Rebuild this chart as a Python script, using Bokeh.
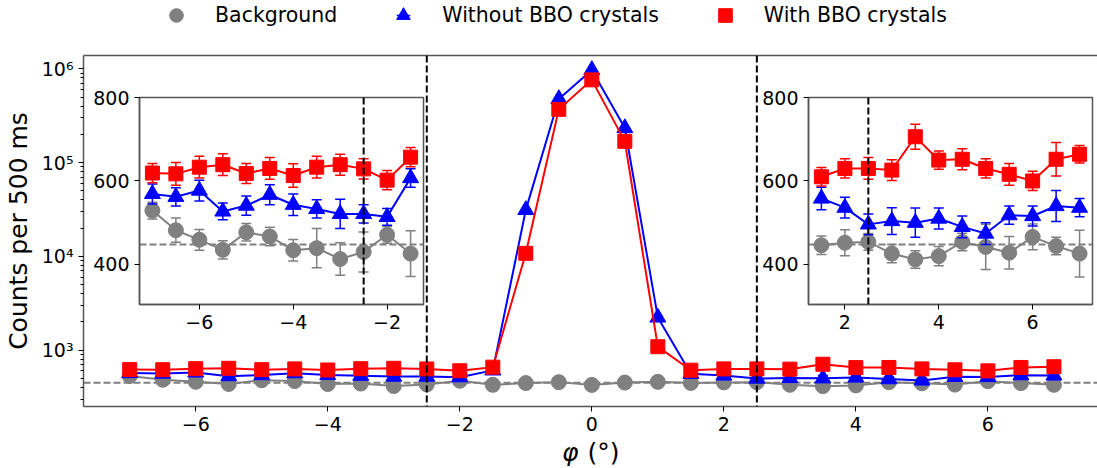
from bokeh.plotting import figure
from bokeh.models import (ColumnDataSource, Range1d, Span, Legend, LegendItem, FixedTicker,
                          CustomJSTickFormatter, LinearAxis, Label)
from bokeh.embed import file_html
from bokeh.resources import INLINE

# ---------------- data ----------------
phi = [-7.0, -6.5, -6.0, -5.5, -5.0, -4.5, -4.0, -3.5, -3.0, -2.5, -2.0, -1.5,
       -1.0, -0.5, 0.0, 0.5, 1.0,
       1.5, 2.0, 2.5, 3.0, 3.5, 4.0, 4.5, 5.0, 5.5, 6.0, 6.5, 7.0]

background = [529, 482, 459, 435, 477, 467, 434, 439, 413, 430, 471, 426,
              445, 455, 425, 450, 458,
              446, 452, 454, 426, 412, 420, 454, 442, 428, 466, 444, 426]
background_err = [20, 29, 25, 22, 21, 22, 26, 47, 39, 48, 20, 55,
                  22, 22, 22, 22, 22,
                  22, 31, 20, 22, 21, 23, 21, 54, 39, 31, 21, 56]

without_bbo = [569, 562, 577, 527, 541, 567, 543, 533, 521, 521, 514, 607,
               31300, 478000, 975000, 234000, 2230,
               558, 536, 496, 504, 500, 510, 490, 474, 518, 516, 540, 536]
without_bbo_err = [24, 22, 25, 20, 23, 24, 26, 22, 35, 22, 20, 22,
                   300, 1200, 1700, 800, 80,
                   27, 25, 25, 32, 35, 25, 26, 26, 22, 24, 37, 22]

with_bbo = [619, 617, 633, 639, 618, 630, 613, 633, 639, 629, 602, 657,
            10770, 370000, 764000, 168600, 1087,
            610, 630, 630, 626, 706, 650, 652, 630, 616, 600, 652, 664]
with_bbo_err = [23, 27, 26, 26, 24, 26, 28, 26, 25, 24, 23, 23,
                170, 1000, 1500, 700, 50,
                22, 23, 26, 25, 30, 22, 25, 23, 26, 23, 40, 21]

series_names = ["Background", "Without BBO crystals", "With BBO crystals"]
background_level = 448
cut_angles = [-2.5, 2.5]

main_xticks = [-6, -4, -2, 0, 2, 4, 6]
main_yticks = [1e3, 1e4, 1e5, 1e6]
inset_left_xticks = [-6, -4, -2]
inset_right_xticks = [2, 4, 6]
inset_yticks = [400, 600, 800]

# ---------------- style ----------------
FONT = "DejaVu Sans"
SPINE = "#555555"
styles = [("gray", "circle", 15), ("blue", "triangle", 16), ("red", "square", 14)]
values = [(background, background_err), (without_bbo, without_bbo_err), (with_bbo, with_bbo_err)]

minus_fmt = CustomJSTickFormatter(code="return (tick < 0 ? '\u2212' : '') + Math.abs(tick).toString();")


def draw_series(fig, keep):
    for (ys, es), (color, marker, size) in zip(values, styles):
        idx = [i for i, x in enumerate(phi) if keep(x)]
        src = ColumnDataSource(dict(
            x=[phi[i] for i in idx],
            y=[ys[i] for i in idx],
            lo=[ys[i] - es[i] for i in idx],
            hi=[ys[i] + es[i] for i in idx],
        ))
        fig.segment(x0="x", y0="lo", x1="x", y1="hi", source=src, line_color=color, line_width=1.5)
        fig.scatter("x", "lo", source=src, marker="dash", size=10, line_color=color, line_width=1.5)
        fig.scatter("x", "hi", source=src, marker="dash", size=10, line_color=color, line_width=1.5)
        fig.line("x", "y", source=src, line_color=color, line_width=2)
        fig.scatter("x", "y", source=src, marker=marker, size=size,
                    fill_color=color, line_color=color)


def style_axis(ax, size="19px"):
    ax.axis_line_color = SPINE
    ax.axis_line_width = 1.5
    ax.major_tick_line_color = "black"
    ax.major_tick_in = 0
    ax.major_tick_out = 5
    ax.minor_tick_in = 0
    ax.minor_tick_out = 3
    ax.major_label_text_font = FONT
    ax.major_label_text_font_size = size
    ax.major_label_text_color = "black"
    ax.major_label_standoff = 5


# ---------------- main figure ----------------
p = figure(width=1097, height=468, x_range=Range1d(-7.7, 7.66), y_range=Range1d(250, 1.39e6),
           y_axis_type="log", output_backend="svg", toolbar_location=None,
           min_border_left=83, min_border_right=0, min_border_top=55, min_border_bottom=62,
           outline_line_color=None, name="main")
p.grid.visible = False

draw_series(p, lambda x: True)

for a in cut_angles:
    p.add_layout(Span(location=a, dimension="height", line_color="black",
                      line_dash="7 3", line_width=2))
p.add_layout(Span(location=background_level, dimension="width", line_color="gray",
                  line_dash="7 3", line_width=2, level="underlay"))

style_axis(p.xaxis[0])
p.xaxis[0].ticker = FixedTicker(ticks=main_xticks)
p.xaxis[0].formatter = minus_fmt

yax = p.yaxis[0]
style_axis(yax)
minor = [k * 10 ** n for n in range(2, 6) for k in range(2, 10)]
yax.ticker = FixedTicker(ticks=main_yticks, minor_ticks=minor)
yax.formatter = CustomJSTickFormatter(code="""
const e = Math.round(Math.log10(tick));
const sup = {"0":"\u2070","1":"\u00b9","2":"\u00b2","3":"\u00b3","4":"\u2074","5":"\u2075","6":"\u2076","7":"\u2077","8":"\u2078","9":"\u2079","-":"\u207b"};
return "10" + String(e).split("").map(c => sup[c]).join("");
""")
yax.axis_label = "Counts per 500 ms"
yax.axis_label_text_font = FONT
yax.axis_label_text_font_size = "25px"
yax.axis_label_text_font_style = "normal"
yax.axis_label_text_color = "black"
yax.axis_label_standoff = 6

top = LinearAxis(ticker=FixedTicker(ticks=[]), major_label_text_font_size="0px",
                 major_tick_line_color=None, minor_tick_line_color=None,
                 axis_line_color=SPINE, axis_line_width=1.5)
p.add_layout(top, "above")


# ---------------- insets ----------------
def make_inset(name, xr, xticks, keep, cut):
    f = figure(width=337, height=257, x_range=Range1d(*xr), y_range=Range1d(304, 800),
               output_backend="svg", toolbar_location=None,
               min_border_left=50, min_border_right=3, min_border_top=14, min_border_bottom=36,
               border_fill_color=None, background_fill_color="white",
               outline_line_color=SPINE, outline_line_width=1.5, name=name)
    f.grid.visible = False
    draw_series(f, keep)
    f.add_layout(Span(location=cut, dimension="height", line_color="black",
                      line_dash="7 3", line_width=2))
    f.add_layout(Span(location=background_level, dimension="width", line_color="gray",
                      line_dash="7 3", line_width=2, level="underlay"))
    style_axis(f.xaxis[0])
    f.xaxis[0].ticker = FixedTicker(ticks=xticks)
    f.xaxis[0].formatter = minus_fmt
    style_axis(f.yaxis[0])
    f.yaxis[0].ticker = FixedTicker(ticks=inset_yticks)
    return f


ins_left = make_inset("inset_left", (-7.275, -1.225), inset_left_xticks, lambda x: x <= -1.5, cut_angles[0])
ins_right = make_inset("inset_right", (1.225, 7.275), inset_right_xticks, lambda x: x >= 1.5, cut_angles[1])

# ---------------- overlay: legend and x label ----------------
ov = figure(width=1097, height=468, x_range=Range1d(0, 1097), y_range=Range1d(0, 468),
            output_backend="svg", toolbar_location=None,
            min_border_left=0, min_border_right=0, min_border_top=0, min_border_bottom=0,
            border_fill_color=None, background_fill_color=None, outline_line_color=None,
            x_axis_location=None, y_axis_location=None, name="overlay")
ov.grid.visible = False
nan = float("nan")
legend_items = []
for name, (color, marker, size) in zip(series_names, styles):
    bar = ov.scatter(x=[nan], y=[nan], marker="dash", angle=1.5708, size=size,
                     line_color=color, line_width=1.5)
    mk = ov.scatter(x=[nan], y=[nan], marker=marker, size=size,
                    fill_color=color, line_color=color)
    legend_items.append(LegendItem(label=name, renderers=[bar, mk]))
legend = Legend(items=legend_items,
                orientation="horizontal", location=(159, 436), padding=0, margin=0, spacing=49,
                glyph_width=34, glyph_height=34, label_standoff=22,
                label_text_font=FONT, label_text_font_size="20.5px", label_text_color="black",
                border_line_color=None, background_fill_alpha=0)
ov.add_layout(legend)
ov.add_layout(Label(x=578, y=16, x_units="screen", y_units="screen", text="φ",
                    text_font=FONT, text_font_size="25px", text_font_style="italic",
                    text_align="right", text_baseline="middle", text_color="black"))
ov.add_layout(Label(x=587, y=16, x_units="screen", y_units="screen", text="(°)",
                    text_font=FONT, text_font_size="25px",
                    text_align="left", text_baseline="middle", text_color="black"))

template = """
{% block contents %}
{% from macros import embed %}
<div style="position:relative; width:1097px; height:468px; overflow:hidden;">
{% for doc in docs %}{% for root in doc.roots %}
<div style="position:absolute; left:{{ pos[root.name][0] }}px; top:{{ pos[root.name][1] }}px;">
{{ embed(root) }}
</div>
{% endfor %}{% endfor %}
</div>
{% endblock %}
"""
pos = {"main": (0, 0), "inset_left": (89, 83), "inset_right": (758, 83), "overlay": (0, 0)}

html = file_html([p, ins_left, ins_right, ov], INLINE, title="chart", template=template,
                 template_variables={"pos": pos})
open("out.html", "w").write(html)
